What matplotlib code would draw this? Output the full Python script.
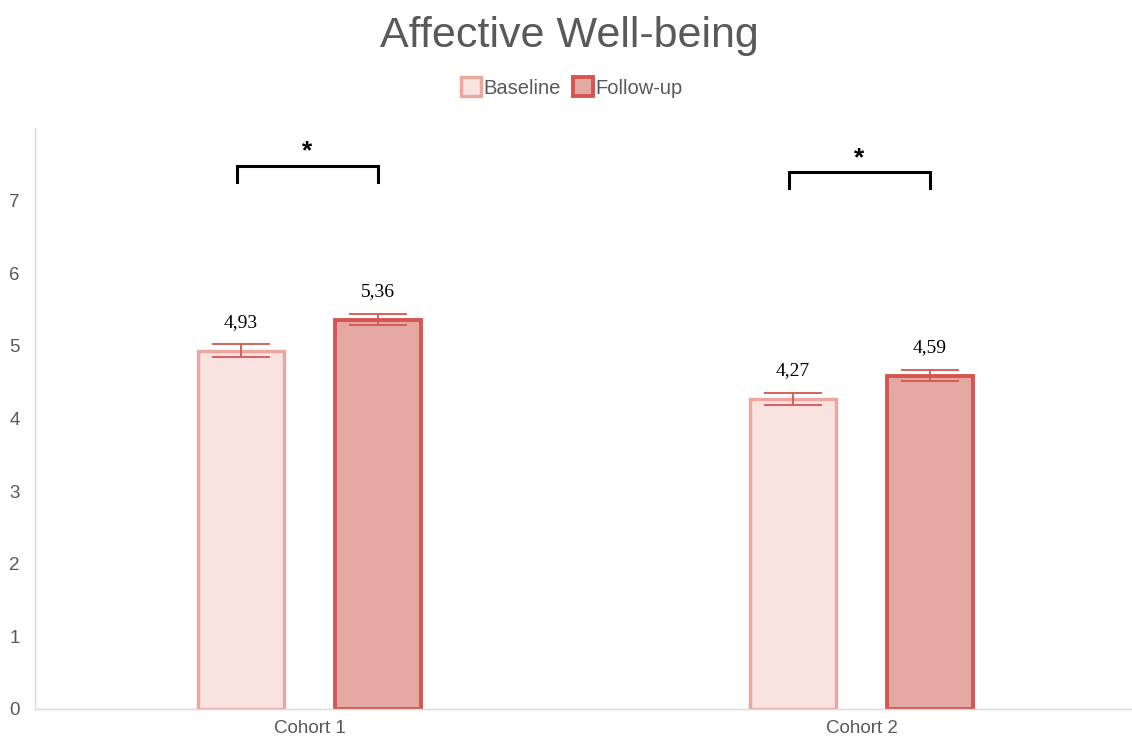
import numpy as np
import matplotlib.pyplot as plt

# Data
cohorts = ["Cohort 1", "Cohort 2"]
baseline = [4.93, 4.27]
followup = [5.36, 4.59]
baseline_err = [0.09, 0.085]
followup_err = [0.08, 0.08]
labels_base = ["4,93", "4,27"]
labels_follow = ["5,36", "4,59"]
bracket_y = [7.48, 7.39]

plt.rcParams['font.family'] = ['Liberation Sans', 'DejaVu Sans']

fig = plt.figure(figsize=(11.32, 7.46), dpi=100)
ax = fig.add_axes([0.031, 0.0496, 0.969, 0.779])

x = np.arange(len(cohorts))
w = 0.155
off = 0.124

base_fill, base_edge = "#F8E3E0", "#EBA6A0"
fol_fill, fol_edge = "#E5A7A2", "#D65550"
err_col = "#D65550"

ax.bar(x - off, baseline, w, color=base_fill, edgecolor=base_edge,
       linewidth=2.4, label="Baseline")
ax.bar(x + off, followup, w, color=fol_fill, edgecolor=fol_edge,
       linewidth=2.8, label="Follow-up")

ax.errorbar(x - off, baseline, yerr=baseline_err, fmt="none",
            ecolor=err_col, elinewidth=1.3, capsize=21, capthick=1.3)
ax.errorbar(x + off, followup, yerr=followup_err, fmt="none",
            ecolor=err_col, elinewidth=1.3, capsize=21, capthick=1.3)

# value labels
for xi, v, s in zip(x - off, baseline, labels_base):
    ax.annotate(s, (xi, v), xytext=(0, 14), textcoords="offset points",
                ha="center", va="bottom", fontsize=14,
                family=["Liberation Serif", "DejaVu Serif"])
for xi, v, s in zip(x + off, followup, labels_follow):
    ax.annotate(s, (xi, v), xytext=(0, 14), textcoords="offset points",
                ha="center", va="bottom", fontsize=14,
                family=["Liberation Serif", "DejaVu Serif"])

# significance brackets
for xi, yb in zip(x, bracket_y):
    x0, x1 = xi - off - 0.008, xi + off
    ax.plot([x0, x0, x1, x1], [yb - 0.22, yb, yb, yb - 0.22],
            color="black", lw=2.2, solid_joinstyle="miter")
    ax.text((x0 + x1) / 2, yb + 0.03, "*", ha="center", va="bottom",
            fontsize=19, fontweight="bold", color="black")

ax.set_xlim(-0.497, 1.49)
ax.set_ylim(0, 8)
ax.set_yticks(range(0, 8))
ax.set_xticks(x)
ax.set_xticklabels(cohorts)
ax.tick_params(axis="both", length=0, labelsize=13.5, labelcolor="#595959")
ax.tick_params(axis="y", pad=11)
ax.tick_params(axis="x", pad=8)

for side in ["top", "right"]:
    ax.spines[side].set_visible(False)
for side in ["left", "bottom"]:
    ax.spines[side].set_color("#D9D9D9")
    ax.spines[side].set_linewidth(1.0)

fig.suptitle("Affective Well-being", x=0.503, y=0.978, fontsize=31,
             color="#595959")
fig.legend(loc="center", bbox_to_anchor=(0.505, 0.883), ncol=2, frameon=False,
           fontsize=14.5, handlelength=1.0, handleheight=1.1,
           handletextpad=0.1, columnspacing=0.6, labelcolor="#595959")

fig.savefig("out.png", dpi=100)
